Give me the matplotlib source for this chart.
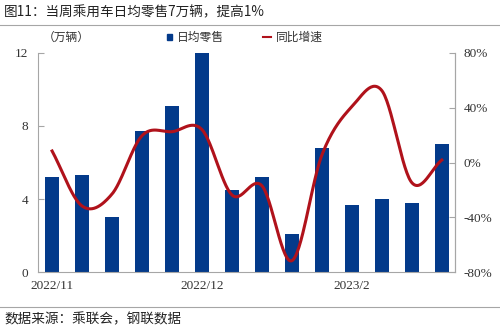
import numpy as np
import matplotlib
matplotlib.use("Agg")
import matplotlib.pyplot as plt
from matplotlib.lines import Line2D
from matplotlib.patches import Rectangle

plt.rcParams['font.family'] = ['Noto Sans CJK SC', 'DejaVu Sans']

categories = ["2022/11", "", "", "", "", "2022/12", "", "", "", "", "2023/2", "", "", ""]
retail = [5.2, 5.3, 3.0, 7.7, 9.1, 12.0, 4.5, 5.2, 2.1, 6.8, 3.7, 4.0, 3.8, 7.0]
yoy = [8.4, -31.8, -23.0, 19.6, 22.5, 24.0, -23.7, -17.0, -71.7, 5.5, 40.8, 52.5, -14.7, 1.8]

BAR = "#033a8a"
LINE = "#b0121b"
GRID = "#a6a6a6"
serif = "Liberation Serif"


def catmull_rom(x, y, n=30):
    x = np.asarray(x, float); y = np.asarray(y, float)
    px = np.concatenate([[2 * x[0] - x[1]], x, [2 * x[-1] - x[-2]]])
    py = np.concatenate([[2 * y[0] - y[1]], y, [2 * y[-1] - y[-2]]])
    xs, ys = [], []
    for i in range(1, len(px) - 2):
        t = np.linspace(0, 1, n, endpoint=False)
        for p, out in ((px, xs), (py, ys)):
            p0, p1, p2, p3 = p[i - 1], p[i], p[i + 1], p[i + 2]
            out.append(0.5 * ((2 * p1) + (-p0 + p2) * t + (2 * p0 - 5 * p1 + 4 * p2 - p3) * t ** 2
                              + (-p0 + 3 * p1 - 3 * p2 + p3) * t ** 3))
    xs.append([x[-1]]); ys.append([y[-1]])
    return np.concatenate(xs), np.concatenate(ys)


fig = plt.figure(figsize=(5, 3.33), dpi=100)
ax = fig.add_axes([0.076, 0.183, 0.834, 0.658])
x = np.arange(len(retail))
ax.bar(x, retail, width=0.45, color=BAR, zorder=2)
ax.set_ylim(0, 12)
ax.set_yticks([0, 4, 8, 12])
ax.set_xlim(-0.47, len(retail) - 1 + 0.44)
ax.set_xticks(x)
ax.set_xticklabels(categories)
ax.tick_params(axis='x', length=0, pad=6, labelsize=9.5)
ax.tick_params(axis='y', direction='in', length=4, color=GRID, labelsize=9.5, pad=7)
for lab in ax.get_xticklabels() + ax.get_yticklabels():
    lab.set_family(serif); lab.set_color("#333333")
ax.spines['top'].set_visible(False)
for s in ['left', 'right', 'bottom']:
    ax.spines[s].set_color(GRID)
    ax.spines[s].set_linewidth(0.8)

ax2 = ax.twinx()
sx, sy = catmull_rom(x, yoy)
ax2.plot(sx, sy, color=LINE, lw=2.2, zorder=3)
ax2.set_ylim(-80, 80)
ax2.set_yticks([-80, -40, 0, 40, 80])
ax2.set_yticklabels([f"{v}%" for v in [-80, -40, 0, 40, 80]])
ax2.tick_params(axis='y', direction='in', length=4, color=GRID, labelsize=9.5, pad=6)
for lab in ax2.get_yticklabels():
    lab.set_family(serif); lab.set_color("#333333")
ax2.spines['top'].set_visible(False)
ax2.spines['right'].set_color(GRID)
ax2.spines['left'].set_visible(False)
ax2.spines['bottom'].set_visible(False)

# title and source
fig.text(0.008, 0.962, "图11：当周乘用车日均零售7万辆，提高1%", fontsize=9.8, va='center', ha='left', color="#222222")
fig.add_artist(Line2D([0, 1], [0.925, 0.925], color=GRID, lw=0.8, transform=fig.transFigure))
fig.add_artist(Line2D([0, 1], [0.078, 0.078], color=GRID, lw=0.8, transform=fig.transFigure))
fig.text(0.008, 0.042, "数据来源：乘联会，钢联数据", fontsize=9.8, va='center', ha='left', color="#222222")

# unit and legend
fig.text(0.085, 0.888, "（万辆）", fontsize=8.5, va='center', ha='left', color="#333333")
fig.add_artist(Rectangle((0.333, 0.881), 0.011, 0.016, color=BAR, transform=fig.transFigure))
fig.text(0.354, 0.888, "日均零售", fontsize=8.5, va='center', ha='left', color="#333333")
fig.add_artist(Line2D([0.526, 0.541], [0.888, 0.888], color=LINE, lw=1.5, transform=fig.transFigure))
fig.text(0.552, 0.888, "同比增速", fontsize=8.5, va='center', ha='left', color="#333333")

fig.savefig("out.png", dpi=100)
